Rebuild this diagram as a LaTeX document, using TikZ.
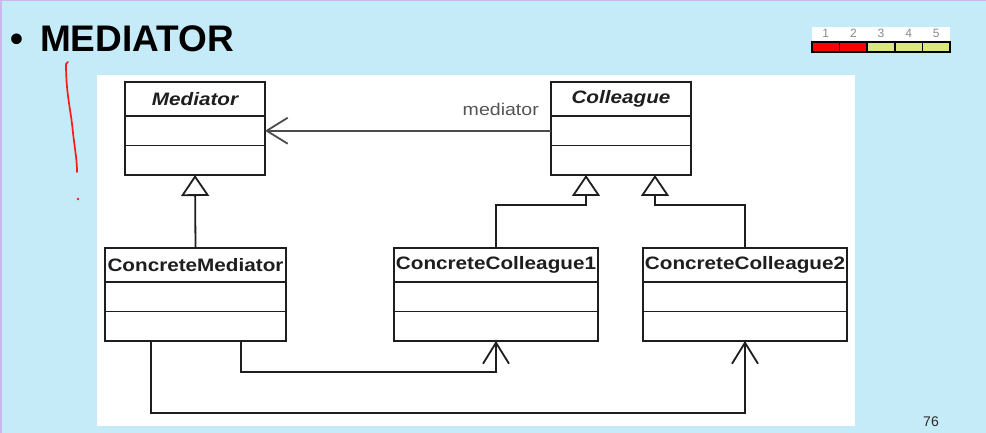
\documentclass[tikz,border=0pt]{standalone}
\usepackage{fontspec}
\setmainfont{Liberation Sans}
\newfontfamily\umlfont[FakeStretch=1.15]{Liberation Sans}
\usepackage{tikz}
\usetikzlibrary{
  positioning, arrows.meta, calc,
}
\definecolor{cSlide}  {HTML}{C5EAF8}
\definecolor{cEdge}   {HTML}{C9B8EC}
\definecolor{cLine}   {HTML}{1E1E1E}
\definecolor{cAssoc}  {HTML}{4C4C4C}
\definecolor{cLabel}  {HTML}{555555}
\definecolor{cInk}    {HTML}{FF1A1A}
\definecolor{cRed}    {HTML}{FF0000}
\definecolor{cLime}   {HTML}{D8E67C}
\definecolor{cDigit}  {HTML}{8A8A8A}
\definecolor{cPage}   {HTML}{2A2A2A}

\tikzset{
  classhead/.style={draw=cLine, line width=1.8pt, fill=white, inner sep=0pt, outer sep=0pt,
    minimum height=34pt, font=\umlfont\fontsize{18}{20}\selectfont\bfseries, text=cLine},
  classpart/.style={draw=cLine, line width=1.8pt, fill=white, inner sep=0pt, outer sep=0pt,
    minimum height=29.5pt},
  gen/.style={draw=cLine, line width=1.8pt, -{Triangle[length=21pt, width=28pt, fill=white]}},
  assoc/.style={draw=cLine, line width=1.8pt, -{Straight Barb[length=21pt, width=26pt]}},
  lbl/.style={font=\umlfont\fontsize{17}{19}\selectfont, text=cLabel, inner sep=0pt},
  cell/.style={draw=black, line width=1.6pt, anchor=north west, inner sep=0pt, outer sep=0pt,
    minimum width=27.6pt, minimum height=10pt},
}
% class box: name, x, y, width, title
\newcommand\umlclass[5]{%
  \node[classhead, minimum width=#4, anchor=north west] (#1) at (#2,#3) {#5};
  \node[classpart, minimum width=#4, anchor=north] (#1-attr) at (#1.south) {};
  \node[classpart, minimum width=#4, anchor=north] (#1-ops) at (#1-attr.south) {};
}

\begin{document}
\begin{tikzpicture}[x=1pt, y=-1pt]
  \useasboundingbox (0,0) rectangle (986,433);
  \fill[cSlide] (0,0) rectangle (986,433);
  \fill[cEdge] (0,0) rectangle (986,1.5);
  \fill[cEdge] (0,0) rectangle (1.5,433);

  % title
  \node[anchor=base west, font=\fontsize{37}{40}\selectfont\bfseries, inner sep=0pt] (title)
        at (10,52) {\textbullet\hspace{17pt}MEDIATOR};

  % rating bar
  \fill[white] (812,27) rectangle (950,52);
  \foreach \i/\c in {1/cRed, 2/cRed, 3/cLime, 4/cLime, 5/cLime}{
    \node[cell, fill=\c] (cell\i) at ({812+27.6*(\i-1)},42) {};
    \node[above=4pt of cell\i.north, inner sep=0pt, font=\fontsize{12}{13}\selectfont, text=cDigit] (num\i) {\i};
  }

  % pen marks
  \draw[cInk, line width=1.7pt, line cap=round]
        (68,62) -- (66,64) .. controls (66,95) and (71,110) .. (73,133)
        .. controls (75,150) and (77,160) .. (77,172);
  \fill[cInk] (78,199) circle (1.4pt);

  % diagram panel
  \fill[white] (97,75) rectangle (855,426);

  \umlclass{med}{125}{82}{140pt}{\itshape Mediator}
  \umlclass{col}{551}{82}{140pt}{\itshape Colleague}
  \umlclass{cmed}{105}{248}{181pt}{ConcreteMediator}
  \umlclass{ccol1}{394}{248}{204pt}{ConcreteColleague1}
  \umlclass{ccol2}{643}{248}{204pt}{ConcreteColleague2}

  % association
  \draw[assoc, draw=cAssoc] (col-attr.west) -- (med-attr.east);
  \node[lbl, above left=15pt and 12pt of col-attr.west] (rolename) {mediator};

  % generalizations
  \draw[gen] (cmed.north) -- (med-ops.south);
  \draw[gen] (ccol1.north) -- ++(0,-43) -| ([xshift=-35pt]col-ops.south);
  \draw[gen] (ccol2.north) -- ++(0,-43) -| ([xshift=34pt]col-ops.south);

  % mediator knows its colleagues
  \draw[assoc] ([xshift=45.5pt]cmed-ops.south) |- ([yshift=-31pt]ccol1-ops.south) -- (ccol1-ops.south);
  \draw[assoc] ([xshift=-44.5pt]cmed-ops.south) |- ([yshift=-72pt]ccol2-ops.south) -- (ccol2-ops.south);

  \node[font=\fontsize{14}{16}\selectfont, text=cPage] (page) at (931,422) {76};
\end{tikzpicture}
\end{document}
